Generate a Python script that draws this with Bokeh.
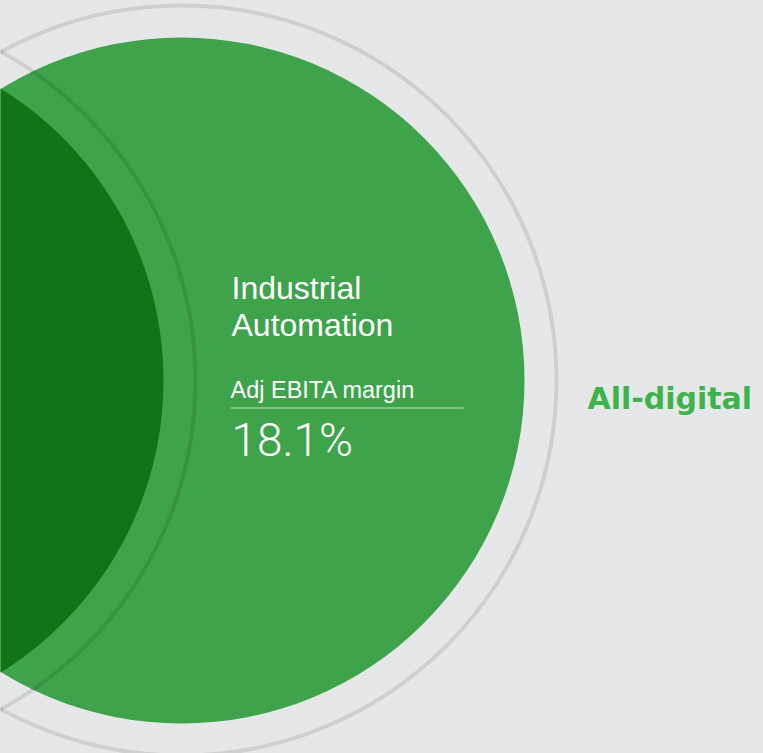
from bokeh.plotting import figure
from bokeh.models import Range1d
from bokeh.core.properties import value
from bokeh.embed import file_html
from bokeh.resources import INLINE

# ---- content ----
segment_lines = ["Industrial", "Automation"]
metric_label = ["Adj EBITA margin"]
metric_value = ["18.1%"]
side_label = ["All-digital"]

# ---- colours ----
BG = "#e6e7e9"
GREEN = "#3ea34b"
DARK_GREEN = "#107318"
LABEL_GREEN = "#3cb44b"

W, H = 763, 753
p = figure(width=W, height=H, output_backend="svg", toolbar_location=None,
           x_range=Range1d(0, W), y_range=Range1d(H, 0),
           min_border=0)
p.axis.visible = False
p.grid.visible = False
p.outline_line_color = None
p.background_fill_color = BG
p.border_fill_color = BG

# circles (page-pixel coordinates)
p.circle(x=[181], y=[380], radius=343, fill_color=GREEN, line_color=None)
p.circle(x=[-180], y=[380], radius=343, fill_color=DARK_GREEN, line_color=None)
p.circle(x=[181, -180], y=[380, 380], radius=375, fill_color=None,
         line_color="black", line_alpha=0.1, line_width=4)

# texts (y_offset compensates the renderer's baseline placement)
p.text(x=[231, 231], y=[297, 334], text=segment_lines, text_color="white",
       text_font=value("Liberation Sans"), text_font_size="32px",
       text_baseline="alphabetic", text_align="left", y_offset=-10)
p.text(x=[230], y=[396], text=metric_label, text_color="white",
       text_font=value("Liberation Sans"), text_font_size="23.5px",
       text_baseline="alphabetic", text_align="left", y_offset=-7)
p.segment(x0=[230], y0=[407.5], x1=[463], y1=[407.5], line_color="white",
          line_alpha=0.7, line_width=1.2)
p.text(x=[231], y=[454], text=metric_value, text_color="white",
       text_font=value("Roboto Light"), text_font_size="46px",
       text_baseline="alphabetic", text_align="left", y_offset=-15)
p.text(x=[587], y=[408], text=side_label, text_color=LABEL_GREEN,
       text_font=value("DejaVu Sans"), text_font_style="bold",
       text_font_size="30px", text_baseline="alphabetic", text_align="left",
       y_offset=-10)

html = file_html(p, INLINE)
html = html.replace("<head>", "<head><style>html,body{margin:0;padding:0;overflow:hidden;background:%s;}</style>" % BG, 1)
open("out.html", "w").write(html)
